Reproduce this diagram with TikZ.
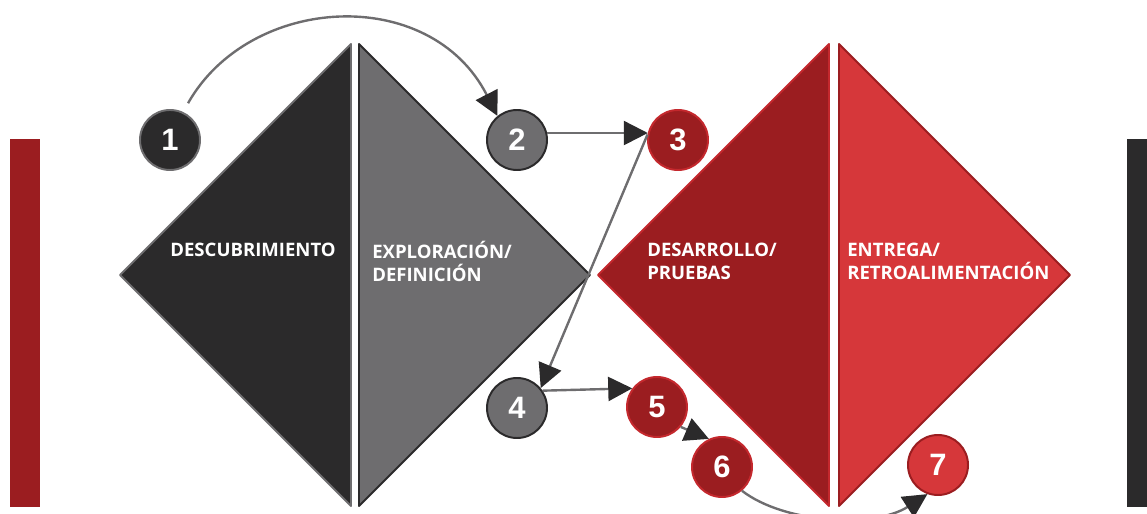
\documentclass[tikz,border=0pt]{standalone}
\usepackage{fontspec}
\setsansfont{Open Sans}
\newfontfamily\digitfont{Liberation Sans}
\usepackage{tikz}
\usetikzlibrary{arrows.meta}

\definecolor{phasedark}{HTML}{2B2A2B}
\definecolor{phasegray}{HTML}{6E6D6F}
\definecolor{phasered}{HTML}{9B1D20}
\definecolor{phaselight}{HTML}{D6373A}
\definecolor{rededge}{HTML}{C4282D}

\begin{document}
\begin{tikzpicture}[x=0.025cm, y=0.025cm,
    stage/.style={circle, minimum size=1.5cm, inner sep=0pt, line width=1.4pt,
      text=white, font=\digitfont\bfseries\fontsize{22}{22}\selectfont},
    flow/.style={draw=phasegray, line width=1.7pt,
      -{Triangle[length=0.6cm, width=0.6cm, color=phasedark]}},
    phasetext/.style={text=white, inner sep=0pt, align=left,
      font=\sffamily\bfseries\fontsize{13.2}{16.3}\selectfont}]
    % Frame
    \useasboundingbox (0,0) rectangle (1147,514);

    % Side bars
    \fill[phasered] (10,7) rectangle (40,375);
    \fill[phasedark] (1127,7) rectangle (1147,375);

    % First diamond
    \filldraw[fill=phasedark, draw=phasegray, line width=1.4pt, line join=round]
        (120,239) -- (351,470) -- (351,8) -- cycle;
    \filldraw[fill=phasegray, draw=phasedark, line width=1.4pt, line join=round]
        (359,470) -- (590,239) -- (359,8) -- cycle;

    % Second diamond
    \filldraw[fill=phasered, draw=rededge, line width=1.4pt, line join=round]
        (598,239) -- (829,470) -- (829,8) -- cycle;
    \filldraw[fill=phaselight, draw=phasered, line width=1.4pt, line join=round]
        (839,470) -- (1070,239) -- (839,8) -- cycle;

    % Phase names
    \node[phasetext, anchor=east] (t1) at (336,264) {DESCUBRIMIENTO};
    \node[phasetext, anchor=west] (t2) at (372,253) {EXPLORACIÓN/\\DEFINICIÓN};
    \node[phasetext, anchor=west] (t3) at (647,253) {DESARROLLO/\\PRUEBAS};
    \node[phasetext, anchor=west] (t4) at (847,253) {ENTREGA/\\RETROALIMENTACIÓN};

    % Steps
    \node[stage, fill=phasedark, draw=phasegray] (n1) at (170,374) {1};
    \node[stage, fill=phasegray, draw=phasedark] (n2) at (517,374) {2};
    \node[stage, fill=phasered, draw=rededge] (n3) at (678,374) {3};
    \node[stage, fill=phasegray, draw=phasedark] (n4) at (517,106) {4};
    \node[stage, fill=phasered, draw=rededge] (n5) at (657,107) {5};
    \node[stage, fill=phasered, draw=rededge] (n6) at (722,47) {6};
    \node[stage, fill=phaselight, draw=phasered] (n7) at (938,49) {7};

    % Connectors
    \draw[flow, shorten <=0.25cm] (n1.65) .. controls (250,520) and (430,530) .. (n2.129);
    \draw[flow] (n2.13) -- (n3.167);
    \draw[flow] (n3.170) -- (n4.40);
    \draw[flow] (n4.34) -- (n5.143);
    \draw[flow] (n5.-40) -- (n6.115);
    \draw[flow] (n6.-50) .. controls (785,-10) and (875,-14) .. (n7.-110);
\end{tikzpicture}
\end{document}
